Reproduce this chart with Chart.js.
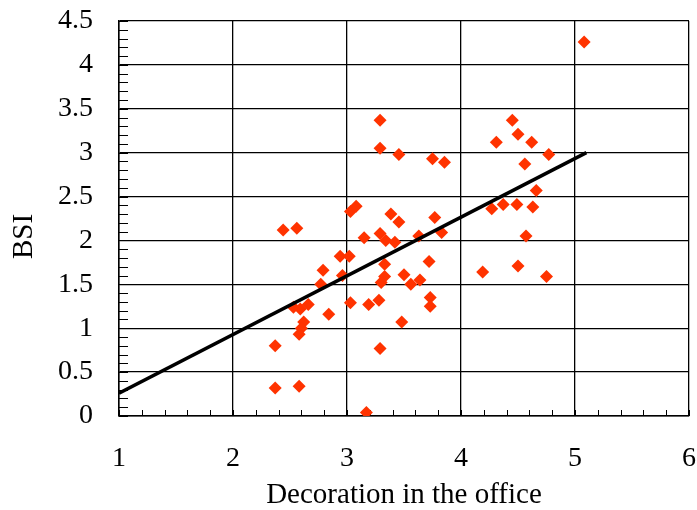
<!DOCTYPE html>
<html>
<head>
<meta charset="utf-8">
<script src="https://cdn.jsdelivr.net/npm/chart.js@4/dist/chart.umd.min.js"></script>
<style>
  body { margin: 0; background: #fff; }
</style>
</head>
<body>
<canvas id="bsi-chart" width="697" height="510"></canvas>
<script>
// scatter values
const decorX = [
  5.08, 3.29, 3.29, 3.455, 3.75, 3.855, 4.45, 4.5, 4.31, 4.62,
  4.77, 4.56, 4.66, 4.27, 4.37, 4.49, 4.63, 4.57, 4.19, 4.5,
  4.75, 2.44, 2.56, 3.03, 3.08, 3.385, 3.455, 3.77, 3.15, 3.29,
  3.34, 3.42, 3.63, 3.83, 2.94, 3.02, 3.33, 3.72, 2.79, 2.96,
  2.77, 3.33, 3.3, 3.5, 3.56, 3.64, 3.73, 3.73, 2.53, 2.59,
  2.66, 2.84, 2.62, 2.6, 2.58, 2.37, 2.37, 2.58, 3.17, 3.29,
  3.03, 3.19, 3.28, 3.48,
]
const bsiY = [
  4.26, 3.37, 3.05, 2.98, 2.93, 2.89, 3.37, 3.21, 3.12, 3.12,
  2.98, 2.87, 2.57, 2.36, 2.41, 2.41, 2.38, 2.05, 1.64, 1.71,
  1.59, 2.12, 2.14, 2.33, 2.39, 2.3, 2.21, 2.26, 2.03, 2.08,
  2.0, 1.98, 2.05, 2.09, 1.82, 1.82, 1.73, 1.76, 1.66, 1.6,
  1.5, 1.59, 1.52, 1.61, 1.5, 1.55, 1.35, 1.25, 1.24, 1.22,
  1.27, 1.16, 1.07, 1.0, 0.93, 0.8, 0.32, 0.34, 0.04, 0.77,
  1.29, 1.27, 1.32, 1.07,
]
// regression line end points
const fitX = [1, 5.1]
const fitY = [0.26, 3.0]

const xTicks = [1, 2, 3, 4, 5, 6]
const yTicks = [0, 0.5, 1, 1.5, 2, 2.5, 3, 3.5, 4, 4.5]
const xMinorStep = 0.2
const yMinorStep = 0.1
const yTitle = "BSI"

const serif = "'Liberation Serif', 'Times New Roman', serif"

// small inward ticks along the left and bottom axes
const minorTicks = {
  id: "minorTicks",
  beforeDatasetsDraw(chart) {
    const { ctx, chartArea, scales } = chart
    const x = scales.x
    const y = scales.y
    ctx.save()
    ctx.strokeStyle = "#000"
    ctx.lineWidth = 1
    ctx.beginPath()
    const nx = Math.round((x.max - x.min) / xMinorStep)
    for (let i = 0; i <= nx; i++) {
      const px = Math.round(x.getPixelForValue(x.min + i * xMinorStep)) + 0.5
      ctx.moveTo(px, chartArea.bottom)
      ctx.lineTo(px, chartArea.bottom - 6)
    }
    const ny = Math.round((y.max - y.min) / yMinorStep)
    for (let i = 0; i <= ny; i++) {
      const py = Math.round(y.getPixelForValue(y.min + i * yMinorStep)) + 0.5
      ctx.moveTo(chartArea.left, py)
      ctx.lineTo(chartArea.left + 9, py)
    }
    ctx.stroke()
    ctx.restore()
  },
}

// y title sits a little below the middle of the axis in the original
const sideTitle = {
  id: "sideTitle",
  afterDraw(chart) {
    const { ctx, chartArea } = chart
    ctx.save()
    ctx.translate(24, (chartArea.top + chartArea.bottom) / 2 + 18)
    ctx.rotate(-Math.PI / 2)
    ctx.fillStyle = "#000"
    ctx.font = "29px " + serif
    ctx.textAlign = "center"
    ctx.textBaseline = "middle"
    ctx.fillText(yTitle, 0, 0)
    ctx.restore()
  },
}

// drop the extra padding Chart.js adds for tick labels
const noScalePadding = (scale) => {
  scale.paddingTop = 0
  scale.paddingBottom = 0
  scale.paddingLeft = 0
  scale.paddingRight = 0
}

const bsiData = {
  datasets: [
    {
      data: decorX.map((v, i) => ({ x: v, y: bsiY[i] })),
      pointStyle: "rectRot",
      pointRadius: 6.5,
      backgroundColor: "#ff3300",
      borderColor: "#ff3300",
      borderWidth: 0,
      order: 2,
    },
    {
      data: fitX.map((v, i) => ({ x: v, y: fitY[i] })),
      showLine: true,
      pointRadius: 0,
      borderColor: "#000",
      borderWidth: 3.5,
      order: 1,
    },
  ],
}

const bsiOptions = {
  responsive: false,
  animation: false,
  layout: {
    padding: { top: 21, right: 8, left: 0, bottom: 0 },
  },
  scales: {
    x: {
      type: "linear",
      position: "bottom",
      min: 1,
      max: 6,
      afterBuildTicks: (scale) => {
        scale.ticks = xTicks.map((v) => ({ value: v }))
      },
      afterFit: (scale) => {
        scale.height = 94
        noScalePadding(scale)
      },
      grid: { color: "#000", lineWidth: 1.3, drawTicks: false },
      border: { color: "#000", width: 1.5 },
      ticks: {
        padding: 26,
        color: "#000",
        font: { family: serif, size: 28 },
      },
      title: {
        display: true,
        text: "Decoration in the office",
        color: "#000",
        font: { family: serif, size: 29, lineHeight: 1 },
        padding: { top: 0, bottom: 0 },
      },
    },
    y: {
      type: "linear",
      min: 0,
      max: 4.5,
      afterBuildTicks: (scale) => {
        scale.ticks = yTicks.map((v) => ({ value: v }))
      },
      afterFit: (scale) => {
        scale.width = 119
        noScalePadding(scale)
      },
      grid: { color: "#000", lineWidth: 1.3, drawTicks: false },
      border: { color: "#000", width: 1.5 },
      ticks: {
        padding: 26,
        color: "#000",
        font: { family: serif, size: 28 },
        callback: (v) => String(v),
      },
    },
  },
  plugins: {
    legend: { display: false },
    tooltip: { enabled: false },
  },
}

let bsiChart = new Chart(document.getElementById("bsi-chart"), {
  type: "scatter",
  data: bsiData,
  options: bsiOptions,
  plugins: [minorTicks, sideTitle],
})
</script>
</body>
</html>
